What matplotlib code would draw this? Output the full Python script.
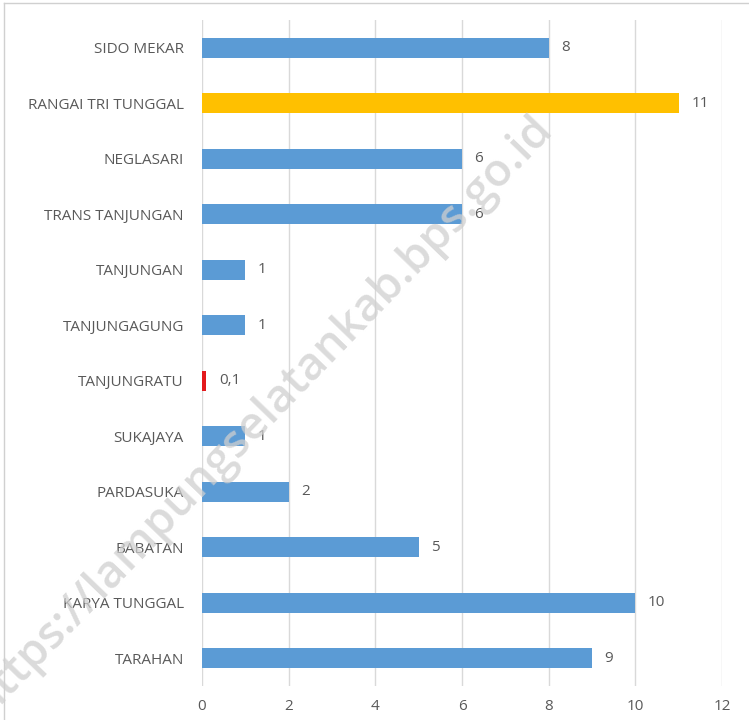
import matplotlib
matplotlib.use("Agg")
import matplotlib.pyplot as plt
from matplotlib.lines import Line2D

categories = ["SIDO MEKAR", "RANGAI TRI TUNGGAL", "NEGLASARI", "TRANS TANJUNGAN",
              "TANJUNGAN", "TANJUNGAGUNG", "TANJUNGRATU", "SUKAJAYA", "PARDASUKA",
              "BABATAN", "KARYA TUNGGAL", "TARAHAN"]
values = [8, 11, 6, 6, 1, 1, 0.1, 1, 2, 5, 10, 9]
labels = ["8", "11", "6", "6", "1", "1", "0,1", "1", "2", "5", "10", "9"]
colors = ["#5B9BD5", "#FFC000", "#5B9BD5", "#5B9BD5", "#5B9BD5", "#5B9BD5",
          "#E3191C", "#5B9BD5", "#5B9BD5", "#5B9BD5", "#5B9BD5", "#5B9BD5"]
xticks = [0, 2, 4, 6, 8, 10, 12]

plt.rcParams['font.family'] = ['Open Sans', 'DejaVu Sans']
txt = "#595959"

fig = plt.figure(figsize=(7.49, 7.2), dpi=100)
ax = fig.add_axes([0.2697, 0.0472, 0.6943, 0.9250])

ypos = list(range(len(categories)))
ax.barh(ypos, values, height=0.36, color=colors, zorder=3)
ax.set_ylim(len(categories) - 0.5, -0.5)
ax.set_xlim(0, 12)
ax.set_xticks(xticks)
ax.set_xticklabels([str(t) for t in xticks])
ax.set_yticks(ypos)
ax.set_yticklabels(categories)
ax.tick_params(axis='both', length=0, colors=txt, labelsize=11)
ax.tick_params(axis='y', pad=13)
ax.tick_params(axis='x', pad=9)
for s in ax.spines.values():
    s.set_visible(False)
ax.grid(axis='x', color="#D9D9D9", linewidth=1, zorder=0)

for y, v, lab in zip(ypos, values, labels):
    ax.annotate(lab, (v, y), xytext=(9, 0), textcoords='offset points',
                va='center', ha='left', color=txt, fontsize=11)

fig.add_artist(Line2D([4/749, 4/749], [0, 1 - 3/720], transform=fig.transFigure,
                      color="#D0D0D0", linewidth=1))
fig.add_artist(Line2D([4/749, 1], [1 - 3/720, 1 - 3/720], transform=fig.transFigure,
                      color="#D0D0D0", linewidth=1))

fig.text(0.35, 0.424, "https://lampungselatankab.bps.go.id", rotation=46,
         fontsize=33, fontweight='semibold', color="#CFCFCF", alpha=0.75,
         ha='center', va='center', rotation_mode='anchor', zorder=10)

fig.savefig("out.png", dpi=100)
